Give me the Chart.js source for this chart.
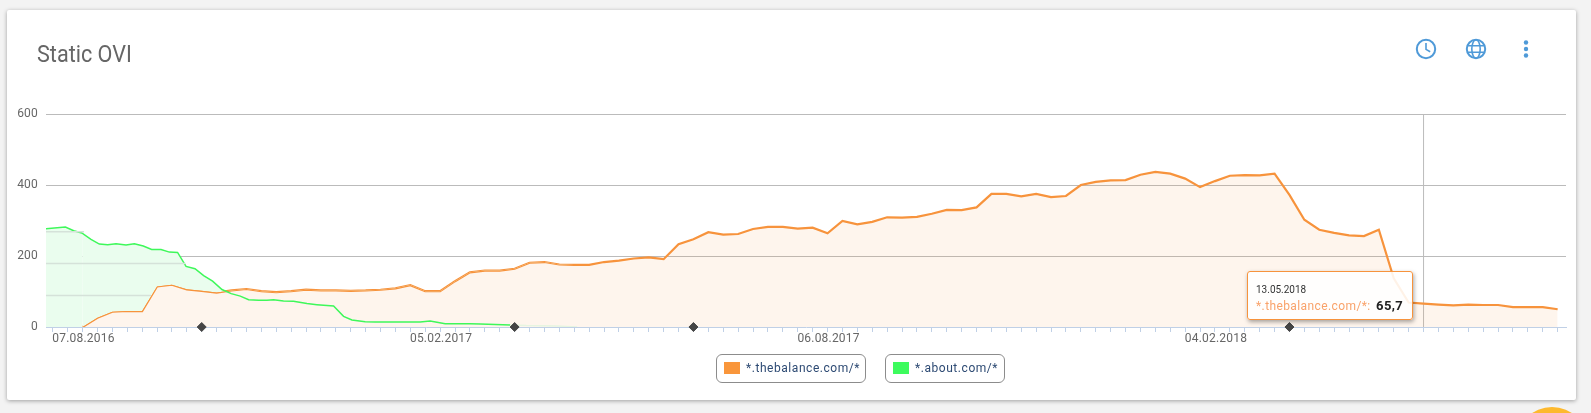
<!DOCTYPE html>
<html>
<head>
<meta charset="utf-8">
<title>Static OVI</title>
<script src="https://cdn.jsdelivr.net/npm/chart.js@4"></script>
<style>
  html, body { margin: 0; padding: 0; width: 1591px; height: 413px; overflow: hidden; background: #f3f3f3; font-family: Roboto, sans-serif; }
  .card { position: absolute; left: 7px; top: 10px; width: 1569px; height: 390px; background: #fff; border-radius: 2px; box-shadow: 0 1px 4px rgba(0,0,0,.35); }
  canvas { position: absolute; left: 0; top: 0; }
  .title { position: absolute; left: 37px; top: 39px; font-size: 24px; line-height: 30px; color: #666; transform: scaleX(.9); transform-origin: left top; }
  .icon { position: absolute; top: 37px; }
  .legend-item { position: absolute; top: 354px; height: 27px; border: 1px solid #8c8c8c; border-radius: 6px; font-size: 12px; line-height: 27px; letter-spacing: .55px; color: #2d4a73; background: #fff; box-sizing: content-box; white-space: nowrap; }
  .legend-item i { position: absolute; left: 7px; top: 7px; width: 16px; height: 12px; }
  .legend-item span { position: absolute; left: 29px; top: 0; }
  .tip { position: absolute; left: 1247px; top: 271px; width: 164px; height: 47px; border: 1px solid #f7933c; border-radius: 3px; background: rgba(255,255,255,.88); box-shadow: 1px 2px 4px rgba(0,0,0,.35); white-space: nowrap; }
  .tip .date { position: absolute; left: 8px; top: 12px; font-size: 10px; line-height: 12px; color: #333; }
  .tip .row { position: absolute; left: 8px; top: 26px; font-size: 12px; line-height: 16px; color: #f9a26a; letter-spacing: .4px; }
  .tip b { color: #222; font-size: 13px; margin-left: 2px; }
  .blob { position: absolute; left: 1516px; top: 407px; width: 72px; height: 72px; border-radius: 50%; background: #fdb92e; }
</style>
</head>
<body>
<div class="card"></div>
<canvas id="oviChart" width="1591" height="413"></canvas>
<div class="title">Static OVI</div>

<svg class="icon" style="left:1414px" width="24" height="24" viewBox="0 0 24 24" fill="none" stroke="#4f9ad8" stroke-width="2"><circle cx="12" cy="12" r="9.2"/><path d="M12 6v6.4l4.2 2.4" stroke-width="1.6"/></svg>
<svg class="icon" style="left:1464px" width="24" height="24" viewBox="0 0 24 24" fill="none" stroke="#4f9ad8" stroke-width="1.6"><circle cx="12" cy="12" r="9.2" stroke-width="2"/><ellipse cx="12" cy="12" rx="4.2" ry="9.2"/><path d="M3 8.8h18M3 15.2h18"/></svg>
<svg class="icon" style="left:1514px" width="24" height="24" viewBox="0 0 24 24" fill="#4f9ad8"><circle cx="12" cy="5.5" r="2.2"/><circle cx="12" cy="12" r="2.2"/><circle cx="12" cy="18.5" r="2.2"/></svg>

<div class="legend-item" style="left:716px;width:148px"><i style="background:#f9963b"></i><span id="legendOrange"></span></div>
<div class="legend-item" style="left:885px;width:118px"><i style="background:#3dfb5d"></i><span id="legendGreen"></span></div>

<div class="tip"><div class="date" id="tipDate"></div><div class="row"><span id="tipName"></span> <b id="tipValue"></b></div></div>
<div class="blob"></div>

<script>
// Data. x values are weeks, week 0 = 07.08.2016
const orangeName = '*.thebalance.com/*';
const greenName = '*.about.com/*';
const tickLabels = { 2: '07.08.2016', 26: '05.02.2017', 52: '06.08.2017', 78: '04.02.2018' }; // first label sits shifted in the original, over week 2
const yTicks = [0, 200, 400, 600];

// weeks -1 to 101
const orangeValues = [
  0, 0, 0, 0, 26, 43, 45, 45, 114, 119, 106, 102, 97, 103, 107, 101, 98, 101, 105, 103, 103,
  102, 103, 105, 109, 118, 101, 101, 129, 154, 159, 159, 164, 181, 183, 176, 175, 175, 183, 187,
  193, 196, 191, 233, 247, 267, 260, 262, 276, 282, 282, 277, 280, 264, 299, 289, 296, 309, 308,
  310, 319, 330, 329, 337, 375, 375, 368, 375, 366, 369, 400, 409, 413, 414, 429, 437, 432, 418,
  394, 411, 426, 428, 427, 432, 372, 302, 274, 265, 258, 256, 274, 137, 69, 65.7, 63, 61, 63, 62,
  62, 56, 56, 56, 50
];

const greenWeeks = [
  -1, 0.85, 1.41, 1.95, 2.57, 3.13, 3.69, 4.25, 4.92, 5.48, 6.08, 6.64, 7.27, 7.83, 8.38, 8.95,
  9.55, 10.13, 10.73, 11.36, 11.98, 12.59, 13.15, 13.82, 14.38, 14.82, 15.49, 16.16, 17.06, 17.73,
  18.85, 19.52, 20.08, 20.97, 21.64, 24.66, 25.33, 26.34, 28, 28.7, 30.7, 31.8, 33.8, 35.2
];
const greenValues = [
  275, 281.6, 271, 265, 247, 233.6, 232, 234.6, 231, 234.6, 228, 218.5, 218.5, 211, 210, 170.5,
  164, 145, 129, 105.6, 94, 87, 77, 75.4, 75.4, 77, 73.4, 72.6, 66, 63, 59, 30, 20, 15, 14, 14,
  17, 9.5, 9.5, 8.5, 5.6, 4, 3, 0
];

// pale leftover lines inside the green area
const ghostLevels = [268, 179, 89];
const ghostEnds = [2.1, 8.9, 6.6];

const markerWeeks = [10, 31, 43, 83];

const tooltipWeek = 92;
const tooltipDate = '13.05.2018';

const firstWeek = -1;

function xy(xs, ys) {
  return xs.map(function (x, i) { return { x: x, y: ys[i] }; });
}

const orangeData = orangeValues.map(function (v, i) { return { x: firstWeek + i, y: v }; });
const tooltipValue = orangeValues[tooltipWeek - firstWeek];

const xMin = -0.45;
const xMax = 101.56;

const datasets = [
  {
    data: markerWeeks.map(function (w) { return { x: w, y: 0 }; }),
    showLine: false, clip: false,
    pointStyle: 'rectRot', pointRadius: 4.5,
    pointBackgroundColor: '#454545', pointBorderColor: '#454545'
  }
];

ghostLevels.forEach(function (level, i) {
  datasets.push({
    data: [{ x: xMin, y: level }, { x: ghostEnds[i], y: level }],
    borderColor: '#d5e2d9', borderWidth: 1.5, pointRadius: 0, fill: false
  });
});

const orangeIndex = datasets.length + 1;

datasets.push({
  label: greenName,
  data: xy(greenWeeks, greenValues),
  borderColor: '#3ef85a', borderWidth: 1.5, pointRadius: 0, tension: 0,
  fill: { target: orangeIndex, above: '#eafdee', below: 'rgba(0,0,0,0)' },
  segment: {
    // the tail fades out in the original
    borderColor: function (ctx) { return ctx.p0.parsed.x >= 30.7 ? '#e6f5e0' : undefined; }
  }
});

datasets.push({
  label: orangeName,
  data: orangeData,
  borderColor: '#f7933c', borderWidth: 2.2, pointRadius: 0, tension: 0,
  fill: 'origin', backgroundColor: 'rgba(247,148,60,0.09)',
  segment: {
    // no line while the series is still empty
    borderColor: function (ctx) { return ctx.p1.parsed.x <= 2 ? 'rgba(0,0,0,0)' : undefined; }
  }
});

// crosshair at the hovered week
datasets.push({
  data: [{ x: tooltipWeek, y: 0 }, { x: tooltipWeek, y: 600 }],
  borderColor: '#bbbbbb', borderWidth: 1, pointRadius: 0, fill: false
});

// axis labels are slightly spaced in the original
const labelSpacing = {
  id: 'labelSpacing',
  beforeDraw: function (chart) { chart.ctx.letterSpacing = '0.2px'; }
};

new Chart(document.getElementById('oviChart'), {
  type: 'line',
  data: { datasets: datasets },
  plugins: [labelSpacing],
  options: {
    responsive: false,
    animation: false,
    events: [],
    layout: { padding: { left: 0, right: 25, top: 114, bottom: 45 } },
    plugins: { legend: { display: false }, tooltip: { enabled: false } },
    scales: {
      x: {
        type: 'linear',
        min: xMin,
        max: xMax,
        afterFit: function (scale) { scale.height = 41; },
        border: { display: true, color: '#c0d0e6', width: 1 },
        grid: { drawOnChartArea: false, drawTicks: true, tickLength: 5, color: '#c0d0e6' },
        ticks: {
          stepSize: 1,
          includeBounds: false,
          autoSkip: false,
          maxRotation: 0,
          padding: 0,
          labelOffset: 1,
          color: '#666',
          font: { family: 'Roboto', size: 12 },
          callback: function (value) { return tickLabels[value] || ''; }
        }
      },
      y: {
        min: yTicks[0],
        max: yTicks[yTicks.length - 1],
        afterFit: function (scale) { scale.width = 46; },
        afterBuildTicks: function (scale) {
          scale.ticks = yTicks.map(function (v) { return { value: v }; });
        },
        border: { display: false },
        grid: {
          drawTicks: false,
          color: function (ctx) { return ctx.tick.value === 0 ? 'rgba(0,0,0,0)' : '#bbbbbb'; }
        },
        ticks: {
          padding: 8,
          color: '#666',
          font: { family: 'Roboto', size: 12 }
        }
      }
    }
  }
});

document.getElementById('legendOrange').textContent = orangeName;
document.getElementById('legendGreen').textContent = greenName;
document.getElementById('tipDate').textContent = tooltipDate;
document.getElementById('tipName').textContent = orangeName + ':';
document.getElementById('tipValue').textContent = String(tooltipValue).replace('.', ',');
</script>
</body>
</html>
